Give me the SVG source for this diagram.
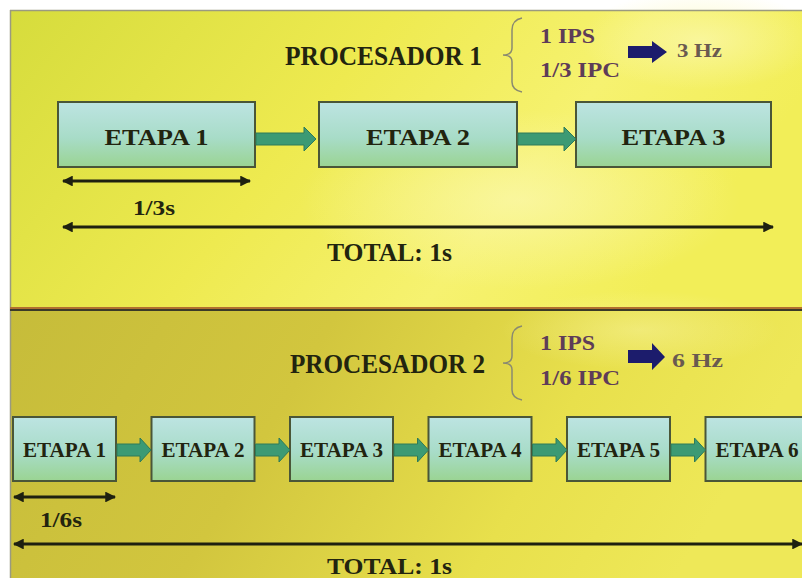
<svg xmlns="http://www.w3.org/2000/svg" width="802" height="578" viewBox="0 0 802 578">
<defs>
<linearGradient id="bgTop" x1="0" y1="0" x2="1" y2="0.3">
<stop offset="0" stop-color="#d6dc3c"/>
<stop offset="0.45" stop-color="#eeea50"/>
<stop offset="0.75" stop-color="#f6f270"/>
<stop offset="1" stop-color="#f2ee58"/>
</linearGradient>
<linearGradient id="bgBot" x1="0" y1="0" x2="1" y2="0.2">
<stop offset="0" stop-color="#c6bc3a"/>
<stop offset="0.4" stop-color="#d2c63e"/>
<stop offset="0.75" stop-color="#e8e04c"/>
<stop offset="1" stop-color="#eee858"/>
</linearGradient>
<radialGradient id="glow" cx="0.5" cy="0.5" r="0.5">
<stop offset="0" stop-color="#fbf8b0" stop-opacity="0.7"/>
<stop offset="1" stop-color="#fbf8b0" stop-opacity="0"/>
</radialGradient>
<linearGradient id="boxFill" x1="0" y1="0" x2="0" y2="1">
<stop offset="0" stop-color="#bde4e2"/>
<stop offset="0.55" stop-color="#a8dcc8"/>
<stop offset="1" stop-color="#9ad492"/>
</linearGradient>
<marker id="bh" viewBox="0 0 10 10" refX="9" refY="5" markerWidth="3.6" markerHeight="3.6" orient="auto-start-reverse">
<path d="M0,0 L10,5 L0,10 z" fill="#1e2010"/>
</marker>
<style>
.box{fill:url(#boxFill);stroke:#4a5638;stroke-width:2}
.t{font-family:"Liberation Serif","Times New Roman",serif;font-weight:bold;fill:#22240f}
.lbl{font-size:23px}
.lbl2{font-size:20px}
.info{font-family:"Liberation Serif","Times New Roman",serif;font-weight:bold;fill:#5e3c58;font-size:20px}
.hz{font-family:"Liberation Serif","Times New Roman",serif;font-weight:bold;fill:#6a5a50;font-size:19px}
.dim{stroke:#1e2010;stroke-width:3;fill:none;marker-start:url(#bh);marker-end:url(#bh)}
.flow{fill:#3c9a74;stroke:#2e7a58;stroke-width:1}
.nav{fill:#1c1c6c}
.brace{fill:none;stroke:#8a8a70;stroke-width:1.5}
</style>
</defs>
<rect x="0" y="0" width="802" height="578" fill="#ffffff"/>
<rect x="10" y="10" width="792" height="299" fill="url(#bgTop)"/>
<rect x="10" y="309" width="792" height="269" fill="url(#bgBot)"/>
<ellipse cx="520" cy="200" rx="220" ry="90" fill="url(#glow)"/>
<ellipse cx="700" cy="40" rx="120" ry="50" fill="url(#glow)"/>
<ellipse cx="640" cy="330" rx="140" ry="40" fill="url(#glow)" opacity="0.6"/>
<path d="M10,10.5 H802 M10.5,10 V578" stroke="#9a9a80" stroke-width="1.5" fill="none"/>
<line x1="10" y1="308" x2="802" y2="308" stroke="#b07030" stroke-width="2"/>
<line x1="10" y1="310" x2="802" y2="310" stroke="#3a3a28" stroke-width="2"/>

<g id="header1">
<text class="t" x="285" y="65" font-size="27" textLength="197" lengthAdjust="spacingAndGlyphs">PROCESADOR 1</text>
<path class="brace" d="M522,18 Q512,20 512,30 L512,48 Q512,55 503,55 Q512,55 512,62 L512,82 Q512,90 522,92"/>
<text class="info" x="540" y="43" textLength="55" lengthAdjust="spacingAndGlyphs">1 IPS</text>
<text class="info" x="540" y="77" textLength="80" lengthAdjust="spacingAndGlyphs">1/3 IPC</text>
<path class="nav" d="M628,46 H652 V41 L667,52 L652,63 V58 H628 z"/>
<text class="hz" x="677" y="57" textLength="45" lengthAdjust="spacingAndGlyphs">3 Hz</text>
</g>

<g id="p1-etapa1"><rect class="box" x="58" y="102" width="197" height="65"/><text class="t lbl" x="156.5" y="145" text-anchor="middle" textLength="104" lengthAdjust="spacingAndGlyphs">ETAPA 1</text></g>
<g id="p1-etapa2"><rect class="box" x="319" y="102" width="198" height="65"/><text class="t lbl" x="418" y="145" text-anchor="middle" textLength="104" lengthAdjust="spacingAndGlyphs">ETAPA 2</text></g>
<g id="p1-etapa3"><rect class="box" x="576" y="102" width="195" height="65"/><text class="t lbl" x="673.5" y="145" text-anchor="middle" textLength="104" lengthAdjust="spacingAndGlyphs">ETAPA 3</text></g>

<g id="header2">
<text class="t" x="290" y="373" font-size="27" textLength="195" lengthAdjust="spacingAndGlyphs">PROCESADOR 2</text>
<path class="brace" d="M522,326 Q512,328 512,338 L512,356 Q512,363 503,363 Q512,363 512,370 L512,390 Q512,398 522,400"/>
<text class="info" x="540" y="350" textLength="55" lengthAdjust="spacingAndGlyphs">1 IPS</text>
<text class="info" x="540" y="385" textLength="80" lengthAdjust="spacingAndGlyphs">1/6 IPC</text>
<path class="nav" d="M628,350 H652 V343 L665,357 L652,370 V363 H628 z"/>
<text class="hz" x="672" y="367" textLength="51" lengthAdjust="spacingAndGlyphs">6 Hz</text>
</g>

<g id="p2-etapa1"><rect class="box" x="13" y="417" width="103" height="64"/><text class="t lbl2" x="64.5" y="457" text-anchor="middle" textLength="83" lengthAdjust="spacingAndGlyphs">ETAPA 1</text></g>
<g id="p2-etapa2"><rect class="box" x="151.5" y="417" width="103" height="64"/><text class="t lbl2" x="203" y="457" text-anchor="middle" textLength="83" lengthAdjust="spacingAndGlyphs">ETAPA 2</text></g>
<g id="p2-etapa3"><rect class="box" x="290" y="417" width="103" height="64"/><text class="t lbl2" x="341.5" y="457" text-anchor="middle" textLength="83" lengthAdjust="spacingAndGlyphs">ETAPA 3</text></g>
<g id="p2-etapa4"><rect class="box" x="428.5" y="417" width="103" height="64"/><text class="t lbl2" x="480" y="457" text-anchor="middle" textLength="83" lengthAdjust="spacingAndGlyphs">ETAPA 4</text></g>
<g id="p2-etapa5"><rect class="box" x="567" y="417" width="103" height="64"/><text class="t lbl2" x="618.5" y="457" text-anchor="middle" textLength="83" lengthAdjust="spacingAndGlyphs">ETAPA 5</text></g>
<g id="p2-etapa6"><rect class="box" x="705.5" y="417" width="103" height="64"/><text class="t lbl2" x="757" y="457" text-anchor="middle" textLength="83" lengthAdjust="spacingAndGlyphs">ETAPA 6</text></g>

<g id="connectors">
<path class="flow" d="M256,133 H304 V127 L316,139 L304,151 V145 H256 z"/>
<path class="flow" d="M518,133 H564 V127 L576,139 L564,151 V145 H518 z"/>
<path class="flow" d="M117,444 H140 V438 L151,450 L140,462 V456 H117 z" fill="#3aa0a0"/>
<path class="flow" d="M255.5,444 H279 V438 L290,450 L279,462 V456 H255.5 z"/>
<path class="flow" d="M394,444 H417.5 V438 L428.5,450 L417.5,462 V456 H394 z"/>
<path class="flow" d="M532.5,444 H556 V438 L567,450 L556,462 V456 H532.5 z"/>
<path class="flow" d="M671,444 H694.5 V438 L705.5,450 L694.5,462 V456 H671 z"/>
<line class="dim" x1="63" y1="181" x2="250" y2="181"/>
<line class="dim" x1="63" y1="227" x2="773" y2="227"/>
<line class="dim" x1="14" y1="497" x2="115" y2="497"/>
<line class="dim" x1="14" y1="544" x2="802" y2="544"/>
</g>

<text class="t" x="133" y="215" font-size="21" textLength="42" lengthAdjust="spacingAndGlyphs">1/3s</text>
<text class="t" x="327" y="261" font-size="25" textLength="125" lengthAdjust="spacingAndGlyphs">TOTAL: 1s</text>
<text class="t" x="40" y="527" font-size="21" textLength="42" lengthAdjust="spacingAndGlyphs">1/6s</text>
<text class="t" x="327" y="574" font-size="24" textLength="125" lengthAdjust="spacingAndGlyphs">TOTAL: 1s</text>
</svg>
